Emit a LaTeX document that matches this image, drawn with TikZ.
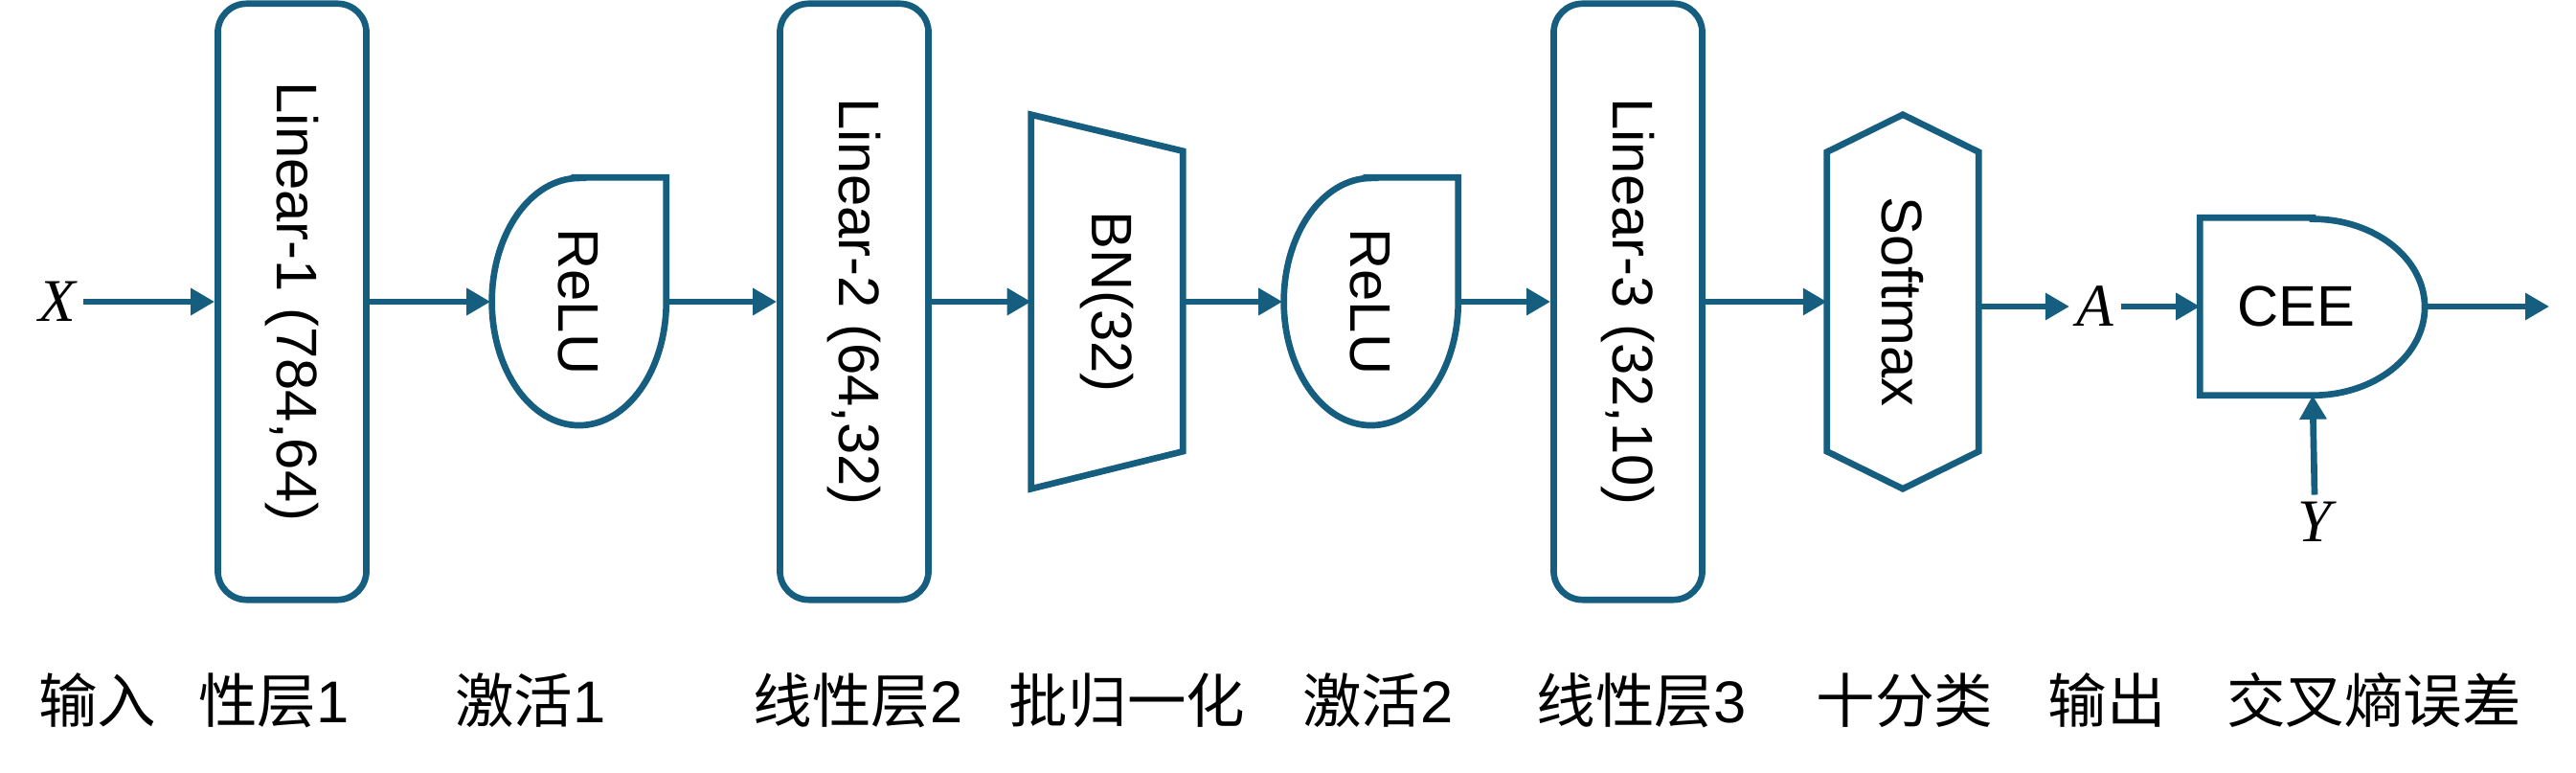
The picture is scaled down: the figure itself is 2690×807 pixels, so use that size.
\documentclass[tikz,border=0pt]{standalone}
\usepackage{fontspec}
\setmainfont{Liberation Sans}
\newfontfamily\cjk{Noto Sans CJK SC}
\newfontfamily\symfont{Liberation Serif}
\usepackage{graphicx}
\usetikzlibrary{arrows.meta}
\definecolor{netblue}{RGB}{22,94,128}
\tikzset{
  outline/.style={draw=netblue, line width=1.9pt},
  block/.style={outline, rounded corners=0.3cm, minimum width=1.55cm, minimum height=6.22cm, inner sep=0pt},
  bare/.style={inner sep=0pt},
  flow/.style={draw=netblue, line width=1.9pt, -{Triangle[length=0.25cm,width=0.27cm]}},
  sym/.style={inner sep=2pt, font=\fontsize{18}{20}\symfont\itshape},
  caption/.style={font=\fontsize{17.5}{20}\selectfont},
}

\begin{document}
\begin{tikzpicture}[x=0.01cm, y=-0.01cm, font=\fontsize{17}{20}\selectfont]
  \useasboundingbox (0,0) rectangle (2690,807);

  % layers
  \node[block] (lin1) at (305,315) {\rotatebox{-90}{Linear-1 (784,64)}};
  \node[bare, minimum width=1.82cm, minimum height=2.58cm] (relu1) at (604,315) {\rotatebox{-90}{ReLU}};
  \node[block] (lin2) at (892,315) {\rotatebox{-90}{Linear-2 (64,32)}};
  \node[bare, minimum width=1.57cm, minimum height=3.89cm] (bn) at (1156,315) {\rotatebox{-90}{BN(32)}};
  \node[bare, minimum width=1.82cm, minimum height=2.58cm] (relu2) at (1431,315) {\rotatebox{-90}{ReLU}};
  \node[block] (lin3) at (1700,315) {\rotatebox{-90}{Linear-3 (32,10)}};
  \node[bare, minimum width=1.57cm, minimum height=3.89cm] (soft) at (1987,315) {\rotatebox{-90}{Softmax}};
  \node[bare, minimum width=2.34cm, minimum height=1.84cm] (cee) at (2415,320) {CEE\hspace*{0.34cm}};

  % shapes
  \foreach \n in {relu1,relu2}
    \draw[outline] (\n.north) -- (\n.north east) -- (\n.east)
      arc[start angle=0, end angle=-180, x radius=0.91cm, y radius=1.29cm]
      arc[start angle=180, end angle=90, x radius=0.91cm, y radius=1.29cm] -- cycle;
  \draw[outline] (bn.north west) -- ([yshift=-0.38cm]bn.north east)
    -- ([yshift=0.39cm]bn.south east) -- (bn.south west) -- cycle;
  \draw[outline] (soft.north) -- ([yshift=-0.39cm]soft.north east)
    -- ([yshift=0.39cm]soft.south east) -- (soft.south)
    -- ([yshift=0.39cm]soft.south west) -- ([yshift=-0.39cm]soft.north west) -- cycle;
  \draw[outline] (cee.north) -- (cee.north west) -- (cee.south west) -- (cee.south)
    arc[start angle=-90, end angle=90, x radius=1.17cm, y radius=0.92cm] -- cycle;

  % inputs and outputs
  \node[sym] (x) at (60,315) {X};
  \node[sym] (a) at (2188,320) {A};
  \node[sym] (y) at (2417,545) {Y};
  \coordinate (out) at (2662,320);

  % arrows
  \draw[flow] (x.east) -- (lin1.west);
  \draw[flow] (lin1.east) -- (relu1.west);
  \draw[flow] (relu1.east) -- (lin2.west);
  \draw[flow] (lin2.east) -- (bn.west);
  \draw[flow] (bn.east) -- (relu2.west);
  \draw[flow] (relu2.east) -- (lin3.west);
  \draw[flow] (lin3.east) -- (soft.west);
  \draw[flow] (soft.east |- a.west) -- (a.west);
  \draw[flow] (a.east) -- (cee.west);
  \draw[flow] (cee.east) -- (out);
  \draw[flow] (y.north) -- (cee.south);

  % captions
  \foreach \x/\t in {102/{\cjk 输入}, 286/{\cjk 性层}1, 554/{\cjk 激活}1,
      896/{\cjk 线性层}2, 1177/{\cjk 批归一化}, 1439/{\cjk 激活}2,
      1714/{\cjk 线性层}3, 1989/{\cjk 十分类}, 2200/{\cjk 输出},
      2479/{\cjk 交叉熵误差}}
    \node[caption] (c\x) at (\x,731) {\t};
\end{tikzpicture}
\end{document}
